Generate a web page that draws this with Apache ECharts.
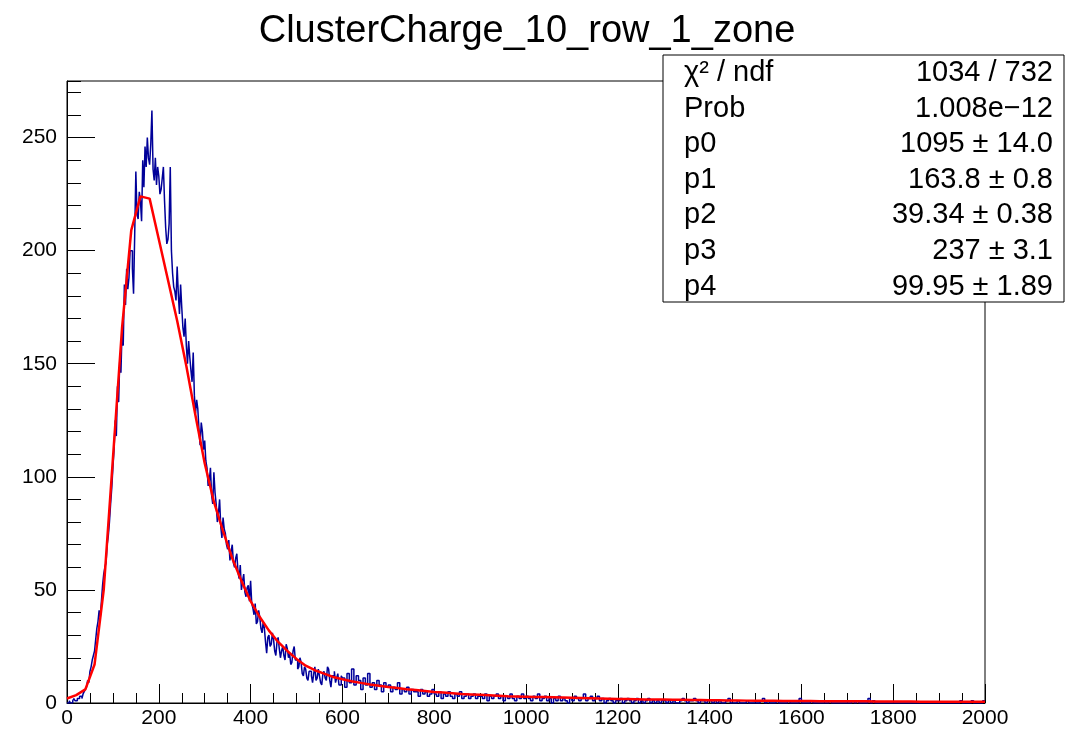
<!DOCTYPE html>
<html><head><meta charset="utf-8">
<script src="https://cdn.jsdelivr.net/npm/echarts@6/dist/echarts.min.js"></script>
<style>html,body{margin:0;padding:0;background:#fff}#c{width:1069px;height:733px}</style>
</head><body><div id="c"></div>
<script>
const chartTitle = 'ClusterCharge_10_row_1_zone';
// histogram, part 1: bins of width fineWidth from 0 to fineEnd
const fineWidth = 2.5;
const fineEnd = 600;
const countsFine = [
 0,0,1,0,0,1,2,1,1,2,2,3,3,2,4,5,6,7,10,9,14,16,19,21,23,28,33,36,41,38,45,52,57,60,62,70,74,80,88,95,
 104,112,125,118,140,133,152,146,165,158,185,176,192,183,188,200,200,192,181,207,235,216,214,226,222,213,240,228,246,237,250,241,238,247,262,236,231,241,229,237,
 233,225,227,232,237,222,210,203,205,212,237,200,190,184,182,178,193,181,172,185,175,166,162,170,158,150,160,153,147,142,155,136,128,134,130,121,114,124,120,112,
 116,107,104,96,98,104,92,88,102,93,88,80,84,90,78,73,82,77,75,70,68,72,63,67,70,62,60,64,66,58,55,61,50,54,57,49,47,51,52,45,
 54,44,42,39,44,35,36,41,38,33,31,36,33,27,22,29,30,25,26,31,28,23,21,27,29,24,20,23,25,21,19,26,24,20,22,17,18,23,25,19,
 19,15,16,20,18,13,12,16,15,11,10,14,14,12,9,13,16,10,11,15,12,9,8,13,14,11,10,16,15,10,7,12,12,14,9,11,13,8,8,12
];
// histogram, part 2: bins of width coarseWidth from fineEnd to 2000
const coarseWidth = 5;
const countsCoarse = [
 11,7,13,9,15,8,12,10,6,11,8,13,7,9,6,10,8,5,9,7,
 8,5,7,6,9,4,6,5,7,4,6,5,5,3,6,4,5,3,4,6,
 4,3,5,2,4,3,5,3,2,4,3,5,2,3,4,2,3,4,2,3,
 3,2,4,1,3,2,3,4,2,3,1,3,2,4,2,1,3,2,4,2,
 3,2,1,3,2,4,1,2,3,1,2,0,2,1,3,1,2,1,0,2,
 1,3,2,1,2,4,1,2,3,1,2,3,1,2,0,1,2,1,0,1,
 1,2,0,1,2,1,0,1,2,0,1,0,1,2,0,1,0,1,0,1,
 1,0,1,0,1,0,0,1,2,1,0,1,1,2,1,0,1,1,0,1,
 1,0,1,0,1,0,0,1,2,0,0,0,1,0,0,0,1,0,0,0,
 0,0,1,2,0,1,0,0,0,1,0,0,0,0,1,0,0,0,0,2,
 0,0,0,0,1,0,0,0,0,0,0,0,1,0,0,0,0,0,0,0,
 0,0,1,0,1,0,0,0,0,2,0,1,0,0,0,0,0,0,0,0,
 0,0,0,0,0,0,0,0,0,0,0,0,0,0,0,0,0,0,0,0,
 0,0,0,0,0,0,0,0,0,1,0,0,0,0,1,0,0,0,0,1
];
// fit curve sampled every fitStep
const fitStep = 20;
const fitValues = [
 2,3.5,6,17,50,108,166,209,224,223,
 205,187,169,149,127,106,89,76,64,54,
 45,38,32,27,23,19.5,16.5,14.5,13,11.5,
 10.5,9.6,8.9,8.2,7.6,7.1,6.6,6.1,5.7,5.3,
 4.9,4.6,4.3,4.0,3.8,3.6,3.4,3.2,3.0,2.9,
 2.8,2.7,2.6,2.5,2.4,2.3,2.2,2.1,2.0,1.9,
 1.8,1.75,1.7,1.6,1.55,1.5,1.45,1.4,1.35,1.3,
 1.25,1.2,1.15,1.1,1.05,1.0,0.98,0.95,0.92,0.9,
 0.87,0.85,0.82,0.8,0.78,0.76,0.74,0.72,0.7,0.68,
 0.66,0.64,0.62,0.6,0.59,0.58,0.57,0.56,0.55,0.54,0.53
];
const xAxisRange = [0, 2000];
const xMajor = 200;
const yAxisRange = [0, 275];
const yMajor = 50;
const yMinor = 10;
const statsLabels = ['χ² / ndf','Prob','p0','p1','p2','p3','p4'];
const statsValues = ['1034 / 732','1.008e\u221212','1095 \u00b1 14.0','163.8 \u00b1 0.8','39.34 \u00b1 0.38','237 \u00b1 3.1','99.95 \u00b1 1.89'];

const histData = countsFine.map((v, i) => [i * fineWidth, v])
  .concat(countsCoarse.map((v, j) => [fineEnd + j * coarseWidth, v]));
histData.push([xAxisRange[1], countsCoarse[countsCoarse.length - 1]]);
const fitData = fitValues.map((v, i) => [i * fitStep, v]);

const FONT = '"Liberation Sans", Arial, Helvetica, sans-serif';
const chart = echarts.init(document.getElementById('c'), null, {renderer: 'canvas'});

const statsGraphics = [];
const boxX = 663, boxY = 55, boxW = 401, boxH = 247;
statsGraphics.push({type: 'rect', z: 100, shape: {x: boxX, y: boxY, width: boxW, height: boxH},
  style: {fill: '#fff', stroke: '#000', lineWidth: 1}});
statsLabels.forEach((t, i) => {
  const cy = 73 + i * 35.6;
  statsGraphics.push({type: 'text', z: 101, x: 684, y: cy,
    style: {text: t, font: '29px ' + FONT, fill: '#000', textAlign: 'left', textVerticalAlign: 'middle'}});
  statsGraphics.push({type: 'text', z: 101, x: 1053, y: cy,
    style: {text: statsValues[i], font: '29px ' + FONT, fill: '#000', textAlign: 'right', textVerticalAlign: 'middle'}});
});

chart.setOption({
  animation: false,
  backgroundColor: '#fff',
  grid: {left: 67, right: 84, top: 81, bottom: 30, show: true, borderColor: '#000', borderWidth: 1, backgroundColor: 'transparent'},
  xAxis: {
    type: 'value', min: xAxisRange[0], max: xAxisRange[1], interval: xMajor,
    axisLine: {show: true, onZero: false, lineStyle: {color: '#000', width: 1}},
    axisTick: {show: true, inside: true, length: 19, lineStyle: {color: '#000'}},
    minorTick: {show: true, splitNumber: 4, length: 10, lineStyle: {color: '#000'}},
    splitLine: {show: false},
    axisLabel: {color: '#000', fontSize: 21, fontFamily: FONT, margin: 5, formatter: v => String(v)}
  },
  yAxis: [{
    type: 'value', min: yAxisRange[0], max: yAxisRange[1], interval: yMajor,
    axisLine: {show: true, onZero: false, lineStyle: {color: '#000', width: 1}},
    axisTick: {show: true, inside: true, length: 28, lineStyle: {color: '#000'}},
    splitLine: {show: false},
    axisLabel: {color: '#000', fontSize: 21, fontFamily: FONT, margin: 10, showMaxLabel: false, formatter: v => String(v)}
  }, {
    type: 'value', position: 'left', min: yAxisRange[0], max: yAxisRange[1], interval: yMinor,
    axisLine: {show: false},
    axisTick: {show: true, inside: true, length: 14, lineStyle: {color: '#000'}},
    splitLine: {show: false},
    axisLabel: {show: false}
  }],
  graphic: [
    {type: 'text', x: 527, y: 32, z: 100,
     style: {text: chartTitle, font: '38px ' + FONT, fill: '#000', textAlign: 'center', textVerticalAlign: 'middle'}}
  ].concat(statsGraphics),
  series: [{
    type: 'line', name: 'hist', data: histData, step: 'end', showSymbol: false, symbol: 'none',
    yAxisIndex: 0, lineStyle: {color: '#000099', width: 1.5}, z: 2, clip: true
  }, {
    type: 'line', name: 'fit', data: fitData, showSymbol: false, symbol: 'none', smooth: false,
    yAxisIndex: 0, lineStyle: {color: '#ff0000', width: 2.5}, z: 3, clip: true
  }]
});
</script>
</body></html>
